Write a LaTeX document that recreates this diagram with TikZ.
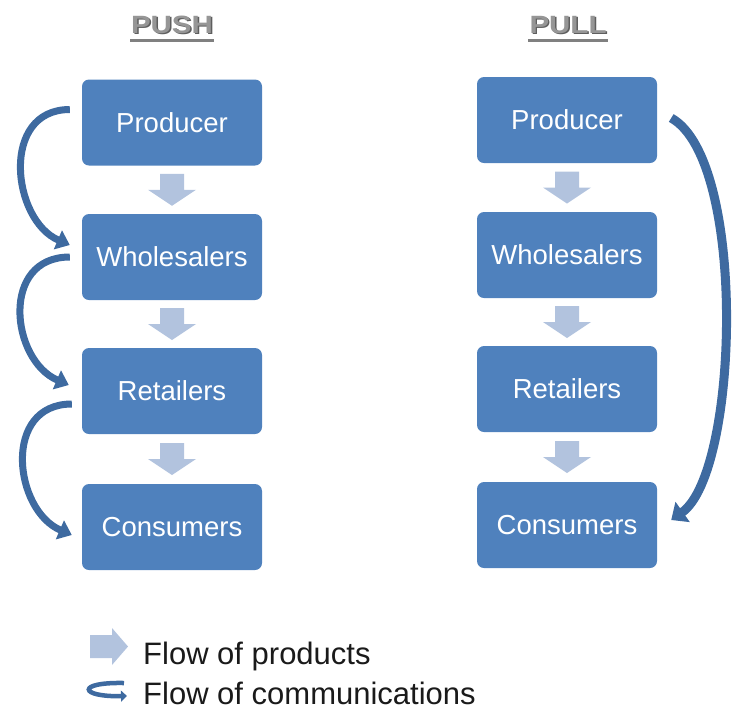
\documentclass[tikz,border=0pt]{standalone}
\usepackage{fontspec}
\setmainfont{Liberation Sans}
\usetikzlibrary{arrows.meta,calc}
\definecolor{boxblue}{HTML}{4F81BD}
\definecolor{prodblue}{HTML}{B2C3DE}
\definecolor{commblue}{HTML}{3E6AA0}
\definecolor{titlegray}{HTML}{969696}
\definecolor{shadowgray}{HTML}{5E5E5E}
\definecolor{legtext}{HTML}{1A1A1A}
\tikzset{
  box/.style={fill=boxblue, draw=none, rounded corners=7pt, minimum width=180pt, minimum height=86pt, inner sep=0pt, text=white, font=\fontsize{27.5}{30}\selectfont},
  comm/.style={draw=commblue, line width=7pt, -{Triangle[width=20pt,length=13pt]}},
  commR/.style={draw=commblue, line width=9pt, -{Triangle[width=24pt,length=14pt]}},
  titletext/.style={font=\fontsize{25}{28}\selectfont\bfseries, inner sep=0pt, anchor=base, xscale=1.18},
  legend/.style={font=\fontsize{31}{34}\selectfont, text=legtext, inner sep=0pt, anchor=base west},
  prodarrow/.pic={\fill[prodblue] (-12,-16) -- (12,-16) -- (12,0) -- (24,0) -- (0,16) -- (-24,0) -- (-12,0) -- cycle;}
}
\begin{document}
\begin{tikzpicture}[x=1pt,y=-1pt]
\useasboundingbox (0,0) rectangle (735,713);

% titles
\node[titletext, text=shadowgray] (tpushs) at (173.5,34.5) {PUSH};
\node[titletext, text=titlegray] (tpush) at (172,33) {PUSH};
\fill[titlegray!85!black] ($(tpush.base west)+(-1,6)$) rectangle ($(tpush.base east)+(1,9)$);
\node[titletext, text=shadowgray] (tpulls) at (569.5,34.5) {PULL};
\node[titletext, text=titlegray] (tpull) at (568,33) {PULL};
\fill[titlegray!85!black] ($(tpull.base west)+(-1,6)$) rectangle ($(tpull.base east)+(1,9)$);

% push column
\node[box] (lp) at (172,122.5) {Producer};
\node[box] (lw) at (172,257) {Wholesalers};
\node[box] (lr) at (172,391) {Retailers};
\node[box] (lc) at (172,527) {Consumers};

% pull column
\node[box] (rp) at (567,120) {Producer};
\node[box] (rw) at (567,255) {Wholesalers};
\node[box] (rr) at (567,389) {Retailers};
\node[box] (rc) at (567,525) {Consumers};

% product flow arrows
\path ($(lp.south)!0.5!(lw.north)$) pic {prodarrow};
\path ($(lw.south)!0.5!(lr.north)$) pic {prodarrow};
\path ($(lr.south)!0.5!(lc.north)$) pic {prodarrow};
\path ($(rp.south)!0.5!(rw.north)$) pic {prodarrow};
\path ($(rw.south)!0.5!(rr.north)$) pic {prodarrow};
\path ($(rr.south)!0.5!(rc.north)$) pic {prodarrow};

% communication flow, push
\coordinate (a1s) at ([xshift=-12pt,yshift=13pt]lp.west);
\coordinate (a1e) at ([xshift=-12pt,yshift=12pt]lw.west);
\coordinate (a2s) at ([xshift=-12pt,yshift=0pt]lw.west);
\coordinate (a2e) at ([xshift=-13pt,yshift=6pt]lr.west);
\coordinate (a3s) at ([xshift=-10pt,yshift=-13pt]lr.west);
\coordinate (a3e) at ([xshift=-10pt,yshift=-8pt]lc.west);
\draw[comm] (a1s) .. controls +(-70,0) and +(-58,-25) .. (a1e);
\draw[comm] (a2s) .. controls +(-70,0) and +(-58,-25) .. (a2e);
\draw[comm] (a3s) .. controls +(-70,0) and +(-58,-25) .. (a3e);

% communication flow, pull
\coordinate (bs) at ([xshift=14pt,yshift=2pt]rp.east);
\coordinate (be) at ([xshift=14pt,yshift=5pt]rc.east);
\draw[commR] (bs) .. controls +(76,42) and +(68,-48) .. (be);

% legend
\fill[prodblue] (90,635) -- (112,635) -- (112,628) -- (128,646.5) -- (112,665) -- (112,658) -- (90,658) -- cycle;
\node[legend] (lg1) at (143,664) {Flow of products};
\coordinate (ics) at (124,683);
\coordinate (ice) at (127,696);
\draw[draw=commblue, line width=4.5pt, -{Triangle[width=11pt,length=6pt]}] (ics) .. controls +(-48,-1) and +(-48,1) .. (ice);
\node[legend] (lg2) at (143,704) {Flow of communications};
\end{tikzpicture}
\end{document}
